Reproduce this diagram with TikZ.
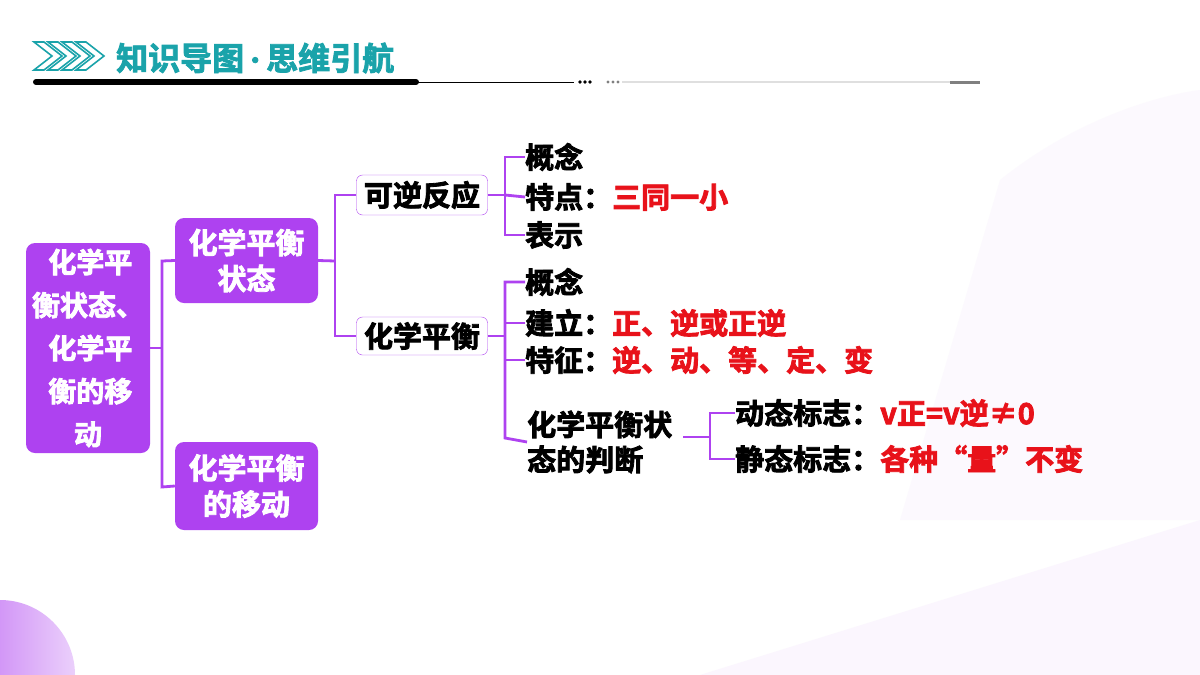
\documentclass[tikz,border=0pt]{standalone}
\usepackage{fontspec}
\newfontfamily\cjk{Noto Sans CJK SC}[BoldFont={Noto Sans CJK SC Bold}]
\newcommand\bld[1]{\special{pdf:literal direct 2 Tr 0.8 w}#1\special{pdf:literal direct 0 Tr 0 w}}
\begin{document}
\begin{tikzpicture}[x=1pt,y=-1pt,
  font=\cjk\bfseries,
  pbox/.style={fill=pur,rounded corners=9pt,text=white,align=center,font=\cjk\bfseries\fontsize{29}{36}\selectfont,inner sep=0pt},
  wbox/.style={draw=pur,fill=white,rounded corners=6pt,font=\cjk\bfseries\fontsize{29}{30}\selectfont,minimum width=131pt,minimum height=40pt,inner sep=0pt},
  leaf/.style={anchor=west,font=\cjk\bfseries\fontsize{29}{30}\selectfont,inner sep=0pt},
  con/.style={draw=pur,line width=2.8pt}]
\definecolor{pur}{HTML}{AE42F0}
\definecolor{teal}{HTML}{1AA3AA}
\definecolor{rd}{HTML}{E8121A}
\useasboundingbox (0,0) rectangle (1200,675);
\fill[white] (0,0) rectangle (1200,675);
\fill[pur!5] (700,675) -- (1200,520) -- (1200,675) -- cycle;
\fill[pur!3] (1000,180) .. controls (1100,100) and (1200,90) .. (1200,90) -- (1200,520) -- (900,520) -- cycle;
\begin{scope}
\clip (0,0) rectangle (1200,675);
\shade[left color=pur!85,right color=pur!25] (0,675) circle (75);
\end{scope}
% header
\foreach \i in {0,14,28,42}{
  \draw[teal,line width=1.6pt] (34+\i,42) -- (52+\i,56) -- (34+\i,70) -- (44+\i,70) -- (62+\i,56) -- (44+\i,42) -- cycle;}
\node[anchor=west,text=teal,font=\cjk\bfseries\fontsize{32}{34}\selectfont,inner sep=0pt] (title) at (116,58) {\bld{知识导图\kern0pt\raisebox{0.1ex}{\fontsize{22}{22}\selectfont•}\kern0pt思维引航}};
\draw[line width=6pt,line cap=round] (36,82) -- (416,82);
\draw[line width=1pt] (416,82) -- (574,82);
\foreach \x in {580,585,590}{\fill (\x,82) circle (1.8);}
\foreach \x in {608,613,618}{\fill[gray] (\x,82) circle (1.6);}
\draw[gray!25,line width=1.5pt] (622,82) -- (950,82);
\draw[gray,line width=3pt] (950,82) -- (980,82);
% nodes
\node[pbox,minimum width=124pt,minimum height=210pt,font=\cjk\bfseries\fontsize{28}{43}\selectfont] (root) at (88,348) {\bld{\,化学平}\\\bld{衡状态、}\\\bld{\,化学平}\\\bld{\,衡的移}\\\bld{动}};
\node[pbox,minimum width=143pt,minimum height=85pt] (s) at (246.5,260.5) {\bld{化学平衡}\\\bld{状态}};
\node[pbox,minimum width=143pt,minimum height=88pt] (m) at (246.5,486) {\bld{化学平衡}\\\bld{的移动}};
\node[wbox] (k) at (422,195) {\bld{可逆反应}};
\node[wbox,minimum height=38pt] (h) at (422,336) {\bld{化学平衡}};
\node[leaf] (k1) at (525,157) {\bld{概念}};
\node[leaf] (k2) at (525,197) {\bld{特点：\textcolor{rd}{三同一小}}};
\node[leaf] (k3) at (525,235) {\bld{表示}};
\node[leaf] (h1) at (525,282) {\bld{概念}};
\node[leaf] (h2) at (525,323) {\bld{建立：\textcolor{rd}{正、逆或正逆}}};
\node[leaf] (h3) at (525,360) {\bld{特征：\textcolor{rd}{逆、动、等、定、变}}};
\node[leaf,align=left,font=\cjk\bfseries\fontsize{29}{35}\selectfont] (h4) at (527,442) {\bld{化学平衡状}\\\bld{态的判断}};
\node[leaf] (d1) at (735,413) {\bld{动态标志：\textcolor{rd}{v正=v逆≠0}}};
\node[leaf] (d2) at (735,459) {\bld{静态标志：\textcolor{rd}{各种“量”不变}}};
% connectors
\coordinate (a1) at (162,261); \coordinate (a2) at (162,487); \coordinate (a) at (162,348);
\coordinate (b1) at (335,195); \coordinate (b2) at (335,336); \coordinate (b) at (335,261);
\coordinate (c1) at (505,157); \coordinate (c2) at (505,235); \coordinate (c) at (505,195);
\coordinate (c3) at (505,282); \coordinate (c4) at (505,438); \coordinate (cc) at (505,336);
\coordinate (e1) at (710,413); \coordinate (e2) at (710,459); \coordinate (e) at (710,437);
\coordinate (h4r) at (683,437);
\draw[con] (root.east) -- (a);
\draw[con] (s.west) -- (a1) -- (a2) -- (m.west);
\draw[con] (s.east) -- (b);
\draw[con] (k.west) -- (b1) -- (b2) -- (h.west);
\draw[con] (k.east) -- (c);
\draw[con] (k1.west) -- (c1) -- (c2) -- (k3.west);
\draw[con] (k2.west) -- (c);
\draw[con] (h.east) -- (cc);
\draw[con] (h1.west) -- (c3) -- (c4) -- (h4.west);
\draw[con] (h2.west) -- (h2.west -| c3);
\draw[con] (h3.west) -- (h3.west -| c3);
\draw[con] (h4r) -- (e);
\draw[con] (d1.west) -- (e1) -- (e2) -- (d2.west);
\end{tikzpicture}
\end{document}
